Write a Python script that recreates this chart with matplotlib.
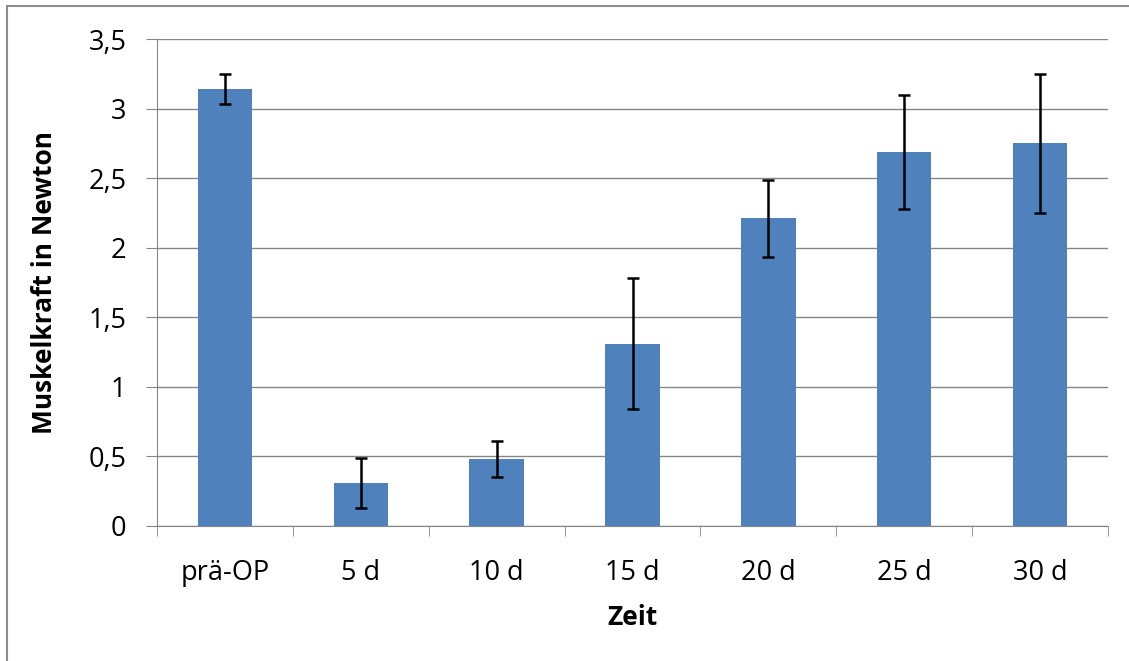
import matplotlib.pyplot as plt
import numpy as np

categories = ["prä-OP", "5 d", "10 d", "15 d", "20 d", "25 d", "30 d"]
means = [3.14, 0.31, 0.48, 1.31, 2.21, 2.69, 2.75]
errors = [0.11, 0.18, 0.13, 0.47, 0.28, 0.41, 0.50]
yticks = [0, 0.5, 1, 1.5, 2, 2.5, 3, 3.5]
ytick_labels = ["0", "0,5", "1", "1,5", "2", "2,5", "3", "3,5"]

plt.rcParams["font.family"] = ["Open Sans", "DejaVu Sans"]

fig = plt.figure(figsize=(11.29, 6.61), dpi=100)
ax = fig.add_axes([157 / 1129, 1 - 526 / 661, (1108 - 157) / 1129, (526 - 39) / 661])

# grey frame, only left and top edges visible in the crop
fig.patches.append(plt.Rectangle((7 / 1129, -0.05), 1.2, 1 - 6 / 661 + 0.05,
                                 transform=fig.transFigure, fill=False,
                                 edgecolor="#8c8c8c", linewidth=1.5))

x = np.arange(len(categories))
ax.bar(x, means, width=0.4, color="#4f81bd", zorder=3)
ax.errorbar(x, means, yerr=errors, fmt="none", ecolor="black", elinewidth=1.8,
            capsize=4, capthick=1.8, zorder=4)

ax.set_xlim(-0.5, len(categories) - 0.5)
ax.set_ylim(0, 3.5)
ax.set_yticks(yticks)
ax.set_yticklabels(ytick_labels)
ax.yaxis.grid(True, color="#868686", linewidth=1, zorder=0)

ax.set_xticks(x)
ax.set_xticklabels(categories)
ax.set_xticks(np.arange(len(categories) + 1) - 0.5, minor=True)
ax.tick_params(axis="x", which="major", length=0, pad=24, labelsize=19.5)
ax.tick_params(axis="x", which="minor", length=7, color="#868686")
ax.tick_params(axis="y", length=8, color="#868686", labelsize=19.5, pad=14)

for side in ["top", "right"]:
    ax.spines[side].set_visible(False)
ax.spines["left"].set_color("#868686")
ax.spines["bottom"].set_color("#868686")

ax.set_xlabel("Zeit", fontsize=19, fontweight="bold", labelpad=12)
ax.set_ylabel("Muskelkraft in Newton", fontsize=19, fontweight="bold", labelpad=22)

fig.savefig("out.png", dpi=100)
